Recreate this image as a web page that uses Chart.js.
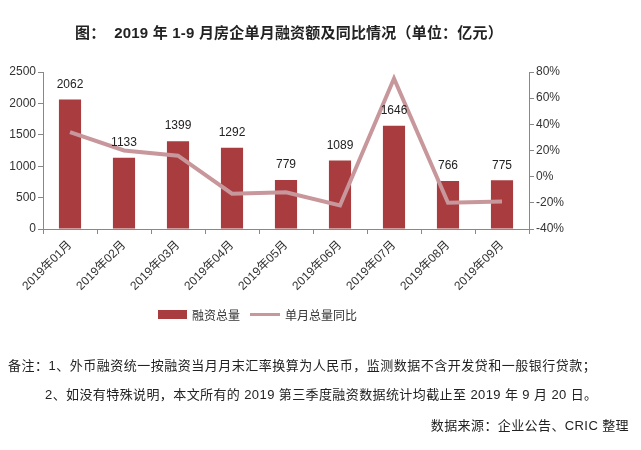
<!DOCTYPE html>
<html>
<head>
<meta charset="utf-8">
<script src="https://cdn.jsdelivr.net/npm/chart.js@4/dist/chart.umd.min.js"></script>
<style>
  body { margin: 0; width: 641px; height: 450px; background: #fff; position: relative; overflow: hidden;
         font-family: "Liberation Sans", "Noto Sans CJK SC", sans-serif; color: #222; }
  #chart1 { position: absolute; left: 0; top: 0; }
  .txt { position: absolute; white-space: nowrap; }
  #title { left: 75px; top: 21px; font-size: 15px; font-weight: bold; letter-spacing: 0.2px; }
  .legend { position: absolute; top: 306px; font-size: 12px; color: #333; }
  .box { position: absolute; }
</style>
</head>
<body>
<canvas id="chart1" width="641" height="450"></canvas>
<div id="title" class="txt">图：&nbsp;&nbsp;2019 年 1-9 月房企单月融资额及同比情况（单位：亿元）</div>

<div class="box" style="left:158px; top:310px; width:29px; height:9px; background:#A83C3F"></div>
<div class="legend" style="left:192px;">融资总量</div>
<div class="box" style="left:250px; top:313px; width:30px; height:3px; background:#C8979B"></div>
<div class="legend" style="left:285px;">单月总量同比</div>

<div class="txt" style="left:8px; top:355px; font-size:13px; letter-spacing:0.5px;">备注：1、外币融资统一按融资当月月末汇率换算为人民币，监测数据不含开发贷和一般银行贷款；</div>
<div class="txt" style="left:45px; top:384px; font-size:13px; letter-spacing:0.4px;">2、如没有特殊说明，本文所有的 2019 第三季度融资数据统计均截止至 2019 年 9 月 20 日。</div>
<div class="txt" style="right:12px; top:415px; font-size:13px; letter-spacing:0.4px;">数据来源：企业公告、CRIC 整理</div>

<script>
const meses = ['2019年01月', '2019年02月', '2019年03月', '2019年04月', '2019年05月',
               '2019年06月', '2019年07月', '2019年08月', '2019年09月'];
const financiacion = [2062, 1133, 1399, 1292, 779, 1089, 1646, 766, 775];
const variacion = [34, 20, 16, -13, -12, -22, 75, -20, -19];

const rojo = '#A83C3F';
const rosa = '#C8979B';
const fuente = '"Liberation Sans", "Noto Sans CJK SC", sans-serif';

// numbers above each bar
const etiquetas = {
  id: 'etiquetas',
  afterDatasetsDraw(chart) {
    const ctx = chart.ctx;
    const meta = chart.getDatasetMeta(0);
    ctx.save();
    ctx.font = '12px ' + fuente;
    ctx.fillStyle = '#222';
    ctx.textAlign = 'center';
    ctx.textBaseline = 'middle';
    meta.data.forEach((bar, i) => {
      ctx.fillText(financiacion[i], bar.x, bar.y - 15);
    });
    ctx.restore();
  }
};

new Chart(document.getElementById('chart1'), {
  type: 'bar',
  data: {
    labels: meses,
    datasets: [{
      label: '融资总量',
      data: financiacion,
      backgroundColor: rojo,
      yAxisID: 'y',
      categoryPercentage: 1,
      barPercentage: 0.41,
      order: 1
    }, {
      type: 'line',
      label: '单月总量同比',
      data: variacion,
      borderColor: rosa,
      borderWidth: 4,
      pointRadius: 0,
      tension: 0,
      yAxisID: 'y1',
      order: 0
    }]
  },
  options: {
    responsive: false,
    animation: false,
    layout: { padding: { top: 72, left: 0, right: 0, bottom: 0 } },
    plugins: {
      legend: { display: false },
      tooltip: { enabled: false }
    },
    scales: {
      x: {
        grid: { drawOnChartArea: false, tickLength: 5, color: '#888' },
        border: { color: '#888' },
        ticks: {
          minRotation: 45, maxRotation: 45, padding: 4,
          color: '#333', font: { size: 12, family: fuente }
        },
        afterFit(scale) { scale.height = 221; }
      },
      y: {
        position: 'left',
        min: 0, max: 2500,
        grid: { drawOnChartArea: false, tickLength: 5, color: '#888' },
        border: { color: '#888' },
        ticks: {
          stepSize: 500, padding: 2, color: '#333', font: { size: 12, family: fuente },
          callback: v => String(v)
        },
        afterFit(scale) { scale.width = 43; }
      },
      y1: {
        position: 'right',
        min: -40, max: 80,
        grid: { drawOnChartArea: false, tickLength: 5, color: '#888' },
        border: { color: '#888' },
        ticks: {
          stepSize: 20, padding: 2, color: '#333', font: { size: 12, family: fuente },
          callback: v => v + '%'
        },
        afterFit(scale) { scale.width = 112; }
      }
    }
  },
  plugins: [etiquetas]
});
</script>
</body>
</html>
